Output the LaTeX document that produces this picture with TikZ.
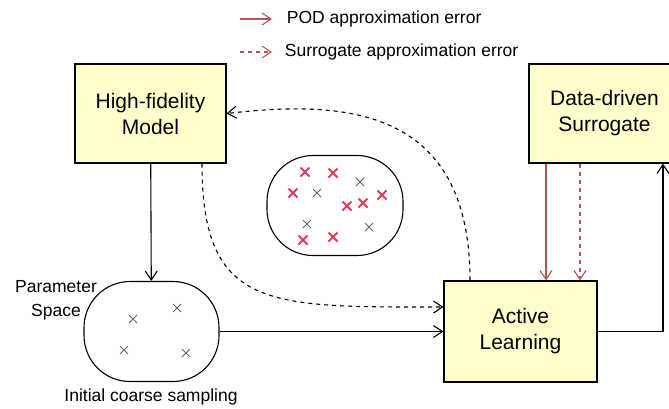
\documentclass[tikz,border=0pt]{standalone}
\usepackage{fontspec}
\setmainfont{Liberation Sans}
\usetikzlibrary{arrows.meta}
\definecolor{boxfill}{HTML}{FFFFCC}
\definecolor{errred}{HTML}{B85450}
\definecolor{ptred}{HTML}{E5395B}
\definecolor{ptgray}{HTML}{5C6478}
\begin{document}
\begin{tikzpicture}[x=1pt,y=-1pt,line width=1.1pt,
	>={Straight Barb[length=9pt,width=12pt]},
	box/.style={draw,fill=boxfill,align=center,font=\fontsize{21}{26}\selectfont},
	blob/.style={draw,rounded corners=46pt,minimum height=100pt},
	txt/.style={align=center,font=\fontsize{17.5}{24}\selectfont},
	pod/.style={->,errred},
	surrerr/.style={->,errred,dash pattern=on 4pt off 4pt},
	dsh/.style={->,dash pattern=on 4pt off 4pt}]
	\useasboundingbox (0,0) rectangle (669,408);
	% legend
	\coordinate (l1) at (240,19);
	\coordinate (l2) at (240,52);
	\draw [pod] (l1) -- ++(32,0) node [txt,right=11pt,black] {POD approximation error};
	\draw [surrerr] (l2) -- ++(32,0) node [txt,right=9pt,black] {Surrogate approximation error};
	% blocks
	\node [box,minimum width=151pt,minimum height=99pt] (hifi) at (150.5,113.5) {High-fidelity\\Model};
	\node [box,minimum width=151pt,minimum height=99pt] (surr) at (604.5,113.5) {Data-driven\\Surrogate};
	\node [box,minimum width=153pt,minimum height=101pt] (al) at (520.5,331.5) {Active\\Learning};
	\node [blob,minimum width=135pt] (ps) at (151.5,331.5) {};
	\node [blob,minimum width=136pt] (samp) at (335,205.5) {};
	\node [txt] (pslbl) at (56,300) {Parameter\\Space};
	\node [txt] (initlbl) at (151,397) {Initial coarse sampling};
	% samples
	\foreach \p in {(133,319),(177,308),(124,350),(186,353),(360,182),(317,193),(307,224),(369,227)}
		\draw [ptgray,line width=.8pt] \p +(-4,-4) -- +(4,4) +(-4,4) -- +(4,-4);
	\foreach \p in {(305,172),(333,173),(293,193),(347,206),(363,203),(382,195),(303,240),(333,237)}
		\draw [ptred,line width=2pt] \p +(-4.5,-4.5) -- +(4.5,4.5) +(-4.5,4.5) -- +(4.5,-4.5);
	% connections
	\draw [->] (hifi) -- (ps);
	\draw [->] (ps) -- (al);
	\draw [->] (al.east) -| ([xshift=58.5pt]surr.south);
	\draw [pod] ([xshift=-58.5pt]surr.south) -- ([xshift=-58.5pt]surr.south |- al.north);
	\draw [surrerr] ([xshift=-24.5pt]surr.south) -- ([xshift=-24.5pt]surr.south |- al.north);
	\draw [dsh] ([xshift=51.5pt]hifi.south) .. controls +(0,147) and +(-174,0) .. ([yshift=24.5pt]al.west);
	\draw [dsh] ([xshift=-50.5pt]al.north) .. controls +(0,-176) and +(114,-13) .. (hifi.east);
\end{tikzpicture}
\end{document}
